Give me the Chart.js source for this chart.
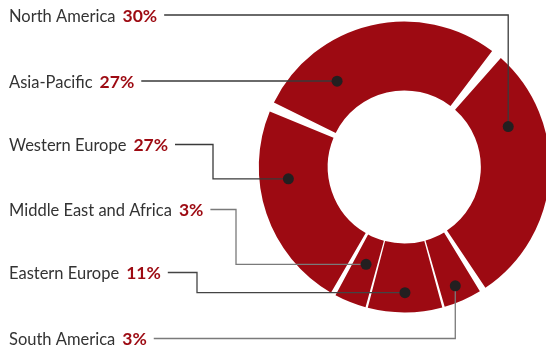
<!DOCTYPE html>
<html>
<head>
<meta charset="utf-8">
<script src="https://cdn.jsdelivr.net/npm/chart.js@4.4.1/dist/chart.umd.min.js"></script>
<style>
html, body { margin: 0; padding: 0; background: #fff; overflow: hidden; }
#wrap { position: relative; width: 546px; height: 349px; }
</style>
</head>
<body>
<div id="wrap"><canvas id="regionChart"></canvas></div>
<script>
// regions in ring order, clockwise from the gap at the top right
var regions = ['North America', 'South America', 'Eastern Europe', 'Middle East and Africa', 'Western Europe', 'Asia-Pacific'];
// share printed next to each label
var shareLabels = ['30%', '3%', '11%', '3%', '27%', '27%'];
// slice sizes as drawn in the ring (% of the circle)
var sliceSizes = [30.3, 4.4, 8.6, 3.7, 23.8, 29.2];
// label rows on the left, top to bottom (index into regions)
var labelOrder = [0, 5, 4, 3, 2, 1];

// callout layout
var rowY = [15, 81, 144.5, 209.5, 272.5, 338.5];
var elbowX = [null, null, 197, 236, 213, null];
var dotAlong = [0.27, 0.53, 0.5, 0.47, 0.65, 0.264];
var dotDepth = [0.572, 0.83, 0.778, 0.472, 0.645, 0.536];
var lineColor = ['#3a3a3a', '#7a7a7a', '#444', '#7a7a7a', '#3a3a3a', '#3a3a3a'];

var red = '#9d0a12';

var callouts = {
    id: 'callouts',
    afterDatasetsDraw: function(chart) {
        var ctx = chart.ctx;
        var meta = chart.getDatasetMeta(0);
        ctx.save();
        labelOrder.forEach(function(i, row) {
            var p = meta.data[i].getProps(['x', 'y', 'startAngle', 'endAngle', 'innerRadius', 'outerRadius'], true);
            var a = p.startAngle + dotAlong[i] * (p.endAngle - p.startAngle);
            var r = p.innerRadius + dotDepth[i] * (p.outerRadius - p.innerRadius);
            var dx = p.x + Math.cos(a) * r;
            var dy = p.y + Math.sin(a) * r;
            var y = rowY[row];

            // label + share
            ctx.textBaseline = 'alphabetic';
            ctx.textAlign = 'left';
            ctx.font = '16.5px Lato';
            ctx.fillStyle = '#333';
            ctx.fillText(regions[i], 9, y + 6.5);
            var x = 9 + ctx.measureText(regions[i]).width + 7;
            ctx.font = 'bold 17.5px Lato';
            ctx.fillStyle = red;
            ctx.fillText(shareLabels[i], x, y + 6.5);
            x += ctx.measureText(shareLabels[i]).width + 7;

            // leader line
            ctx.strokeStyle = lineColor[i];
            ctx.lineWidth = 1.3;
            ctx.beginPath();
            ctx.moveTo(x, y);
            if (elbowX[i] !== null) {
                ctx.lineTo(elbowX[i], y);
                ctx.lineTo(elbowX[i], dy);
                ctx.lineTo(dx, dy);
            } else {
                ctx.lineTo(dx, y);
                ctx.lineTo(dx, dy);
            }
            ctx.stroke();

            ctx.fillStyle = '#231f20';
            ctx.beginPath();
            ctx.arc(dx, dy, 5.5, 0, Math.PI * 2);
            ctx.fill();
        });
        ctx.restore();
    }
};

var ctx = document.getElementById('regionChart').getContext('2d');
var regionChart = new Chart(ctx, {
    type: 'doughnut',
    data: {
        labels: regions,
        datasets: [{
            data: sliceSizes,
            backgroundColor: red,
            borderWidth: 0,
            spacing: 9,
            clip: false
        }]
    },
    options: {
        responsive: true,
        maintainAspectRatio: false,
        animation: false,
        events: [],
        rotation: 39.3,
        radius: 141,
        cutout: '51.1%',
        layout: {
            padding: { left: 262.6, right: 0, top: 0, bottom: 15 }
        },
        plugins: {
            legend: { display: false },
            tooltip: { enabled: false }
        }
    },
    plugins: [callouts]
});
</script>
</body>
</html>
